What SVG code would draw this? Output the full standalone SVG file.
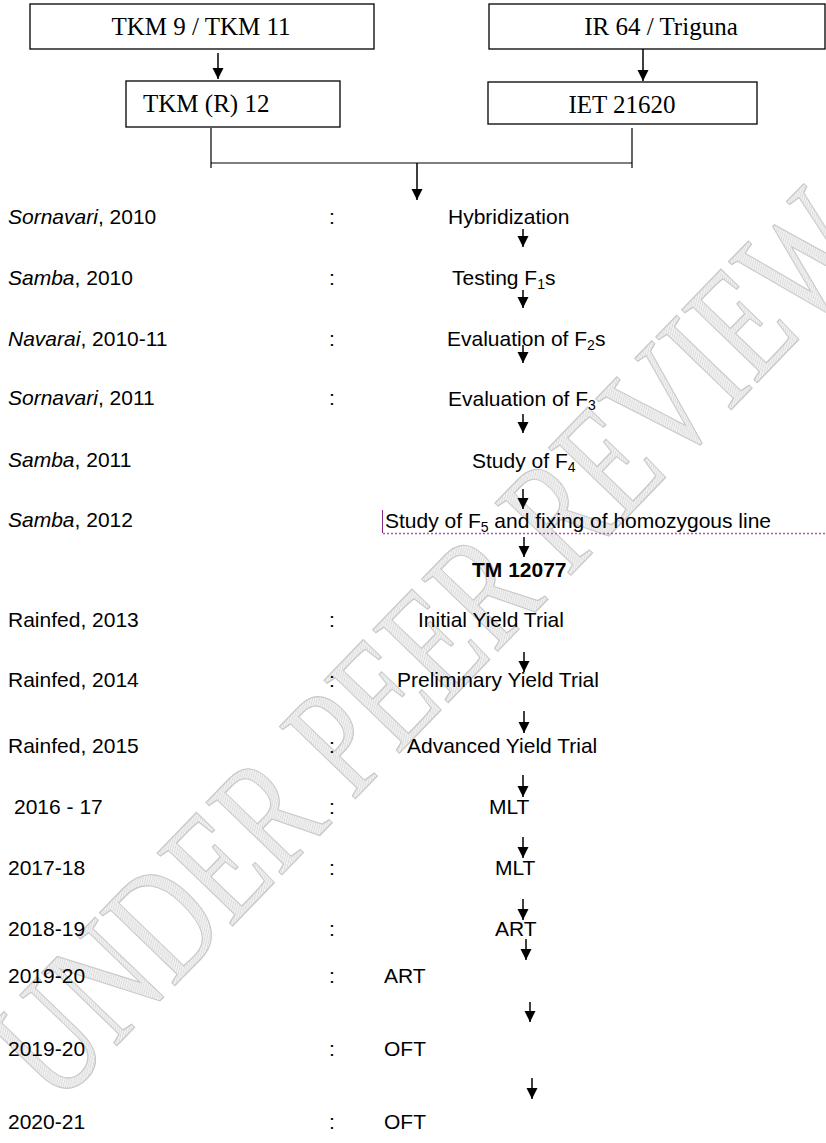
<svg xmlns="http://www.w3.org/2000/svg" width="826" height="1143" viewBox="0 0 826 1143">
<defs>
<style>
.box{fill:#fff;stroke:#000;stroke-width:1.3}
.tnr{font-family:"Liberation Serif","Times New Roman",serif;font-size:25px;fill:#000}
.ar{font-family:"Liberation Sans",Arial,sans-serif;font-size:21px;fill:#000}
.it{font-style:italic}
.b{font-weight:bold}
.sub{font-size:14px}
.conn{stroke:#000;stroke-width:1.5;fill:none}
.thin{stroke:#000;stroke-width:1.2;fill:none}
.wm{font-family:"Liberation Serif","Times New Roman",serif;font-size:160px;fill:url(#hatch);stroke:#c8c8c8;stroke-width:1.3}
</style>
<pattern id="hatch" patternUnits="userSpaceOnUse" width="3" height="3">
<rect width="3" height="3" fill="#f2f2f2"/>
<path d="M0,3 L3,0" stroke="#d0d0d0" stroke-width="0.8"/>
</pattern>
<marker id="ah" markerUnits="userSpaceOnUse" markerWidth="12" markerHeight="12" refX="11" refY="5.5" orient="auto">
<path d="M0,0 L11,5.5 L0,11 z" fill="#000"/>
</marker>
</defs>
<rect width="826" height="1143" fill="#fff"/>
<g id="watermark">
<text class="wm" x="0" y="0" text-anchor="middle" transform="translate(468,682) rotate(-46) scale(0.72,1)">UNDER PEER REVIEW</text>
</g>
<g id="n-tkm9"><rect class="box" x="30" y="4" width="344" height="45"/><text class="tnr" x="201" y="35" text-anchor="middle">TKM 9 / TKM 11</text></g>
<g id="n-ir64"><rect class="box" x="489" y="4" width="336" height="45"/><text class="tnr" x="661" y="35" text-anchor="middle">IR 64 / Triguna</text></g>
<g id="n-tkmr12"><rect class="box" x="126" y="81" width="214" height="46"/><text class="tnr" x="143" y="112">TKM (R) 12</text></g>
<g id="n-iet"><rect class="box" x="488" y="82" width="269" height="42"/><text class="tnr" x="622" y="113" text-anchor="middle">IET 21620</text></g>
<g id="connectors">
<path class="conn" d="M218,53 V79" marker-end="url(#ah)"/>
<path class="conn" d="M643,49 V81" marker-end="url(#ah)"/>
<path class="thin" d="M211,128 V168 M632,128 V168 M211,163 H632"/>
<path class="conn" d="M417,163 V200" stroke-width="2" marker-end="url(#ah)"/>
<path class="conn" d="M523,229 V247" marker-end="url(#ah)"/>
<path class="conn" d="M523,290 V308" marker-end="url(#ah)"/>
<path class="conn" d="M523,345 V363" marker-end="url(#ah)"/>
<path class="conn" d="M523,414 V433" marker-end="url(#ah)"/>
<path class="conn" d="M523,489 V509" marker-end="url(#ah)"/>
<path class="conn" d="M524,537 V557" marker-end="url(#ah)"/>
<path class="conn" d="M524,652 V672" marker-end="url(#ah)"/>
<path class="conn" d="M524,711 V733" marker-end="url(#ah)"/>
<path class="conn" d="M523,775 V797" marker-end="url(#ah)"/>
<path class="conn" d="M523,837 V858" marker-end="url(#ah)"/>
<path class="conn" d="M523,899 V920" marker-end="url(#ah)"/>
<path class="conn" d="M526,939 V960" marker-end="url(#ah)"/>
<path class="conn" d="M530,1002 V1022" marker-end="url(#ah)"/>
<path class="conn" d="M532,1078 V1099" marker-end="url(#ah)"/>
</g>
<g id="r1"><text class="ar" x="8" y="224"><tspan class="it">Sornavari</tspan>, 2010</text><text class="ar" x="332" y="224" text-anchor="middle">:</text><text class="ar" x="448" y="224">Hybridization</text></g>
<g id="r2"><text class="ar" x="8" y="285"><tspan class="it">Samba</tspan>, 2010</text><text class="ar" x="332" y="285" text-anchor="middle">:</text><text class="ar" x="452" y="285">Testing F<tspan class="sub" dy="4">1</tspan><tspan dy="-4">s</tspan></text></g>
<g id="r3"><text class="ar" x="8" y="346"><tspan class="it">Navarai</tspan>, 2010-11</text><text class="ar" x="332" y="346" text-anchor="middle">:</text><text class="ar" x="447" y="346">Evaluation of F<tspan class="sub" dy="4">2</tspan><tspan dy="-4">s</tspan></text></g>
<g id="r4"><text class="ar" x="8" y="405"><tspan class="it">Sornavari</tspan>, 2011</text><text class="ar" x="332" y="405" text-anchor="middle">:</text><text class="ar" x="448" y="406">Evaluation of F<tspan class="sub" dy="4">3</tspan></text></g>
<g id="r5"><text class="ar" x="8" y="467"><tspan class="it">Samba</tspan>, 2011</text><text class="ar" x="472" y="468">Study of F<tspan class="sub" dy="4">4</tspan></text></g>
<g id="r6"><text class="ar" x="8" y="527"><tspan class="it">Samba</tspan>, 2012</text>
<path d="M382.5,510 V533" stroke="#8a2b8a" stroke-width="1"/>
<path d="M383,533.5 H826" stroke="#b050b0" stroke-width="1.3" stroke-dasharray="2,2"/>
<text class="ar" x="385" y="528">Study of F<tspan class="sub" dy="4">5</tspan><tspan dy="-4"> and fixing of homozygous line</tspan></text></g>
<g id="n-tm"><text class="ar b" x="472" y="577">TM 12077</text></g>
<g id="r7"><text class="ar" x="8" y="627">Rainfed, 2013</text><text class="ar" x="332" y="627" text-anchor="middle">:</text><text class="ar" x="418" y="627">Initial Yield Trial</text></g>
<g id="r8"><text class="ar" x="8" y="687">Rainfed, 2014</text><text class="ar" x="332" y="687" text-anchor="middle">:</text><text class="ar" x="397" y="687">Preliminary Yield Trial</text></g>
<g id="r9"><text class="ar" x="8" y="753">Rainfed, 2015</text><text class="ar" x="332" y="753" text-anchor="middle">:</text><text class="ar" x="407" y="753">Advanced Yield Trial</text></g>
<g id="r10"><text class="ar" x="14" y="814">2016 - 17</text><text class="ar" x="332" y="814" text-anchor="middle">:</text><text class="ar" x="489" y="814">MLT</text></g>
<g id="r11"><text class="ar" x="8" y="875">2017-18</text><text class="ar" x="332" y="875" text-anchor="middle">:</text><text class="ar" x="495" y="875">MLT</text></g>
<g id="r12"><text class="ar" x="8" y="936">2018-19</text><text class="ar" x="332" y="936" text-anchor="middle">:</text><text class="ar" x="495" y="936">ART</text></g>
<g id="r13"><text class="ar" x="8" y="983">2019-20</text><text class="ar" x="332" y="983" text-anchor="middle">:</text><text class="ar" x="384" y="983">ART</text></g>
<g id="r14"><text class="ar" x="8" y="1056">2019-20</text><text class="ar" x="332" y="1056" text-anchor="middle">:</text><text class="ar" x="384" y="1056">OFT</text></g>
<g id="r15"><text class="ar" x="8" y="1129">2020-21</text><text class="ar" x="332" y="1129" text-anchor="middle">:</text><text class="ar" x="384" y="1129">OFT</text></g>
</svg>
